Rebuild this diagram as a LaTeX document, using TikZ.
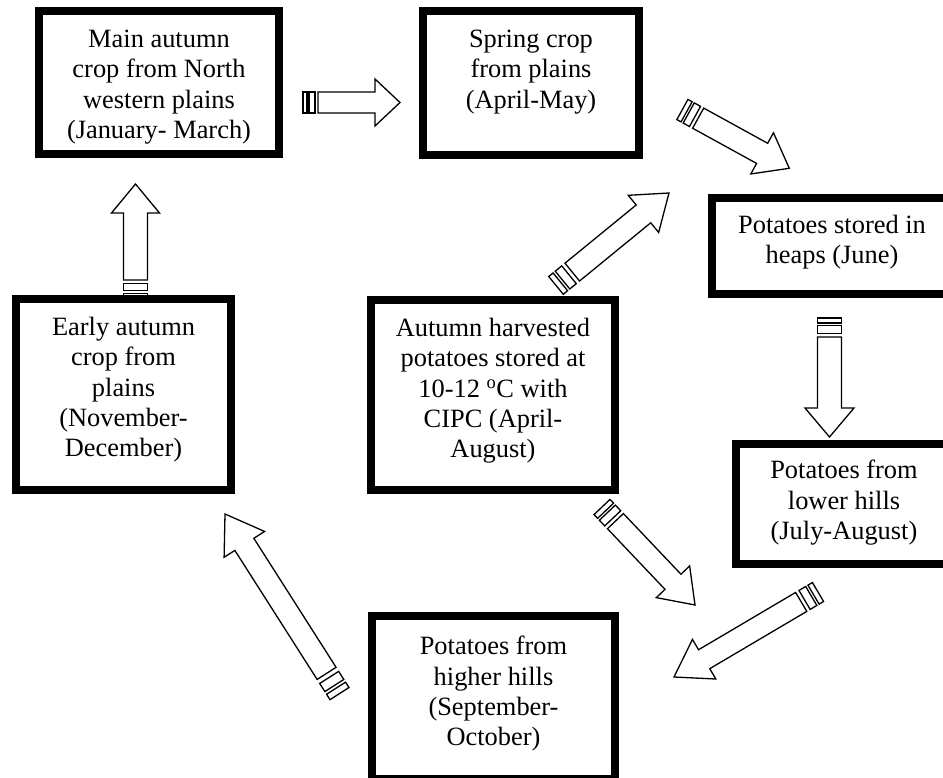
\documentclass[tikz,border=0pt]{standalone}
\usepackage{fontspec}
\setmainfont{Liberation Serif}
\usetikzlibrary{calc}
\tikzset{
  box/.style={draw=black, line width=8pt, inner sep=0pt, rectangle},
  lbl/.style={inner sep=0pt, align=center, anchor=north,
    font=\fontsize{26.4}{30.3}\selectfont, execute at begin node={\rule{0pt}{20pt}}},
  arr/.style={draw=black, fill=white, line width=1.3pt, line join=miter},
}
% #1 tail, #2 tip, #3 shaft half width, #4 head half width, #5 head length, #6 stripe scale
\newcommand\sarrow[6]{%
  \coordinate (#1b) at ($(#1)!4*#6pt!(#2)$);
  \coordinate (#1c) at ($(#1)!6*#6pt!(#2)$);
  \coordinate (#1d) at ($(#1)!12*#6pt!(#2)$);
  \coordinate (#1e) at ($(#1)!15*#6pt!(#2)$);
  \coordinate (#1f) at ($(#2)!#5pt!(#1)$);
  \draw[arr] ($(#1)!#3pt!90:(#2)$) -- ($(#1)!#3pt!-90:(#2)$) -- ($(#1b)!#3pt!-90:(#2)$) -- ($(#1b)!#3pt!90:(#2)$) -- cycle;
  \draw[arr] ($(#1c)!#3pt!90:(#2)$) -- ($(#1c)!#3pt!-90:(#2)$) -- ($(#1d)!#3pt!-90:(#2)$) -- ($(#1d)!#3pt!90:(#2)$) -- cycle;
  \draw[arr] ($(#1e)!#3pt!90:(#2)$) -- ($(#1f)!#3pt!90:(#2)$) -- ($(#1f)!#4pt!90:(#2)$) -- (#2)
    -- ($(#1f)!#4pt!-90:(#2)$) -- ($(#1f)!#3pt!-90:(#2)$) -- ($(#1e)!#3pt!-90:(#2)$) -- cycle;
}
\begin{document}
\begin{tikzpicture}[x=1pt,y=-1pt]
\useasboundingbox (0,0) rectangle (943,778);
\clip (0,0) rectangle (943,778);
\fill[white] (0,0) rectangle (943,778);

% arrow end points
\coordinate (a1t) at (303,102.5);   \coordinate (a1h) at (400,102.5);
\coordinate (a2t) at (135.5,298);   \coordinate (a2h) at (135.5,184);
\coordinate (a3t) at (682.4,109.5); \coordinate (a3h) at (789.3,168.3);
\coordinate (a4t) at (556,285.4);   \coordinate (a4h) at (669,193);
\coordinate (a5t) at (829.5,318);   \coordinate (a5h) at (829.5,437);
\coordinate (a6t) at (602,507);     \coordinate (a6h) at (695,605);
\coordinate (a7t) at (818,592);     \coordinate (a7h) at (674,677);
\coordinate (a8t) at (339.5,693.6); \coordinate (a8h) at (225,514);

\sarrow{a1t}{a1h}{10.5}{23.5}{25}{1.0}
\sarrow{a2t}{a2h}{12}{24}{29}{1.2}
\sarrow{a3t}{a3h}{11.5}{23.5}{31}{1.2}
\sarrow{a4t}{a4h}{11.5}{24}{33}{1.4}
\sarrow{a5t}{a5h}{12}{24.5}{29}{1.27}
\sarrow{a6t}{a6h}{11}{23}{32}{1.3}
\sarrow{a7t}{a7h}{11}{23}{35}{1.3}
\sarrow{a8t}{a8h}{11.25}{24}{36}{1.6}

% boxes
\node[box, minimum width=240pt, minimum height=143pt] (b1) at (159,82.5) {};
\node[box, minimum width=216pt, minimum height=144pt] (b2) at (531,83) {};
\node[box, minimum width=240pt, minimum height=96pt]  (b3) at (832,246) {};
\node[box, minimum width=244pt, minimum height=190pt] (b4) at (493,395) {};
\node[box, minimum width=215pt, minimum height=191pt] (b5) at (123.5,394.5) {};
\node[box, minimum width=216pt, minimum height=120pt] (b6) at (844,504) {};
\node[box, minimum width=243pt, minimum height=163pt] (b7) at (493.5,697.5) {};

% labels
\node[lbl] (t1) at (159,30) {Main autumn\\crop from North\\western plains\\(January- March)};
\node[lbl] (t2) at (531,30) {Spring crop\\from plains\\(April-May)};
\node[lbl] (t3) at (832,215) {Potatoes stored in\\heaps (June)};
\node[lbl] (t4) at (493,318) {Autumn harvested\\potatoes stored at\\10-12 \textsuperscript{o}C with\\CIPC (April-\\August)};
\node[lbl] (t5) at (123.5,317) {Early autumn\\crop from\\plains\\(November-\\December)};
\node[lbl] (t6) at (844,460) {Potatoes from\\lower hills\\(July-August)};
\node[lbl] (t7) at (493.5,636) {Potatoes from\\higher hills\\(September-\\October)};
\end{tikzpicture}
\end{document}
